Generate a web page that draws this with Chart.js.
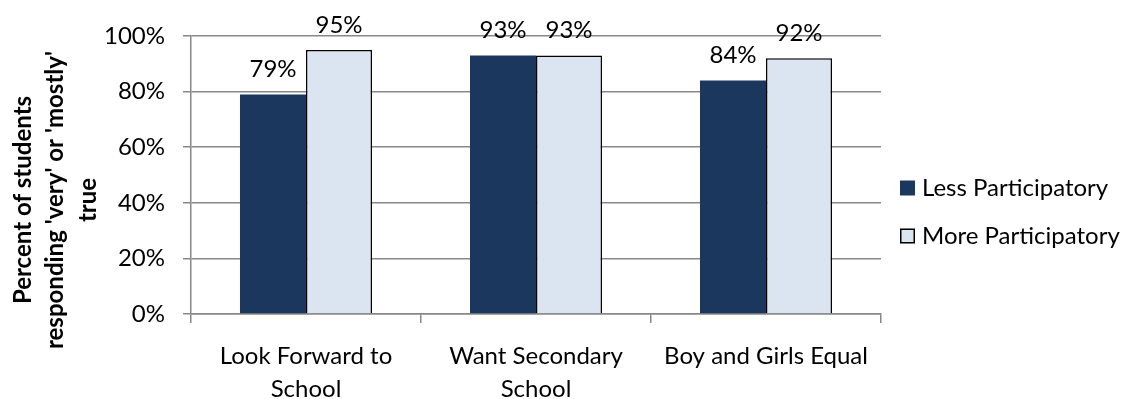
<!DOCTYPE html>
<html>
<head>
<meta charset="utf-8">
<script src="https://cdn.jsdelivr.net/npm/chart.js@4.4.1/dist/chart.umd.min.js"></script>
<style>
  html, body { margin: 0; padding: 0; background: #ffffff; }
  #wrap { width: 1128px; height: 399px; }
</style>
</head>
<body>
<div id="wrap"><canvas id="chart" width="1128" height="399"></canvas></div>
<script>
// Survey categories (multi-line labels are arrays)
const categories = [["Look Forward to", "School"], ["Want Secondary", "School"], "Boy and Girls Equal"];
const seriesNames = ["Less Participatory", "More Participatory"];
// Percent of students responding 'very' or 'mostly' true
const lessParticipatory = [79, 93, 84];
const moreParticipatory = [95, 93, 92];
const yTickValues = [0, 20, 40, 60, 80, 100];
const yTitleLines = ["Percent of students", "responding 'very' or 'mostly'", "true"];

const FONT = 'Lato, "Open Sans", sans-serif';
const DARK = '#1b375d';
const LIGHT = '#dbe5f1';
const GRID = '#888888';

// Percent labels above each bar
const valueLabels = {
  id: 'valueLabels',
  afterDatasetsDraw(chart) {
    const ctx = chart.ctx;
    ctx.save();
    ctx.font = '24px ' + FONT;
    ctx.fillStyle = '#000';
    ctx.textAlign = 'center';
    ctx.textBaseline = 'alphabetic';
    chart.data.datasets.forEach((ds, i) => {
      chart.getDatasetMeta(i).data.forEach((bar, j) => {
        ctx.fillText(ds.data[j] + '%', bar.x, bar.y - 17);
      });
    });
    ctx.restore();
  }
};

// Rotated, three-line y-axis title
const yAxisTitle = {
  id: 'yAxisTitle',
  afterDraw(chart) {
    const ctx = chart.ctx;
    ctx.save();
    ctx.font = 'bold 24px ' + FONT;
    ctx.fillStyle = '#000';
    ctx.textAlign = 'center';
    ctx.textBaseline = 'middle';
    ctx.translate(23, 200);
    ctx.rotate(-Math.PI / 2);
    yTitleLines.forEach((line, k) => ctx.fillText(line, 0, k * 32.5));
    ctx.restore();
  }
};

// Legend on the right, one entry per series
const sideLegend = {
  id: 'sideLegend',
  afterDraw(chart) {
    const ctx = chart.ctx;
    ctx.save();
    ctx.font = '24px ' + FONT;
    ctx.textAlign = 'left';
    ctx.textBaseline = 'middle';
    chart.data.datasets.forEach((ds, i) => {
      const cy = 188 + i * 48;
      ctx.fillStyle = ds.backgroundColor;
      ctx.fillRect(900, cy - 7.5, 15, 15);
      if (ds.borderWidth > 0) {
        ctx.strokeStyle = ds.borderColor;
        ctx.lineWidth = 1.5;
        ctx.strokeRect(900.75, cy - 6.75, 13.5, 13.5);
      }
      ctx.fillStyle = '#000';
      ctx.fillText(ds.label, 922, cy);
    });
    ctx.restore();
  }
};

new Chart(document.getElementById('chart'), {
  type: 'bar',
  data: {
    labels: categories,
    datasets: [
      {
        label: seriesNames[0],
        data: lessParticipatory,
        backgroundColor: DARK,
        borderWidth: 0,
        categoryPercentage: 0.574,
        barPercentage: 1.0
      },
      {
        label: seriesNames[1],
        data: moreParticipatory,
        backgroundColor: LIGHT,
        borderColor: '#000000',
        borderWidth: 1.5,
        categoryPercentage: 0.574,
        barPercentage: 1.0
      }
    ]
  },
  options: {
    responsive: false,
    animation: false,
    devicePixelRatio: 1,
    layout: { padding: { left: 0, top: 36, right: 247, bottom: 0 } },
    plugins: {
      legend: { display: false },
      tooltip: { enabled: false },
      title: { display: false }
    },
    scales: {
      x: {
        offset: true,
        afterFit(scale) { scale.height = 85; },
        border: { display: true, color: GRID, width: 1.5 },
        grid: { display: true, drawOnChartArea: false, drawTicks: true, tickLength: 9, color: GRID, lineWidth: 1.5, offset: true },
        ticks: {
          color: '#000',
          padding: 17,
          maxRotation: 0,
          autoSkip: false,
          font: { family: FONT, size: 24, lineHeight: 1.375 }
        }
      },
      y: {
        min: 0,
        max: 100,
        afterFit(scale) { scale.width = 191; },
        afterBuildTicks(scale) { scale.ticks = yTickValues.map(v => ({ value: v })); },
        border: { display: true, color: GRID, width: 1.5 },
        grid: { color: GRID, lineWidth: 1.5, drawTicks: true, tickLength: 8 },
        ticks: {
          color: '#000',
          padding: 18,
          font: { family: FONT, size: 24 },
          callback: v => v + '%'
        }
      }
    }
  },
  plugins: [valueLabels, yAxisTitle, sideLegend]
});
</script>
</body>
</html>
